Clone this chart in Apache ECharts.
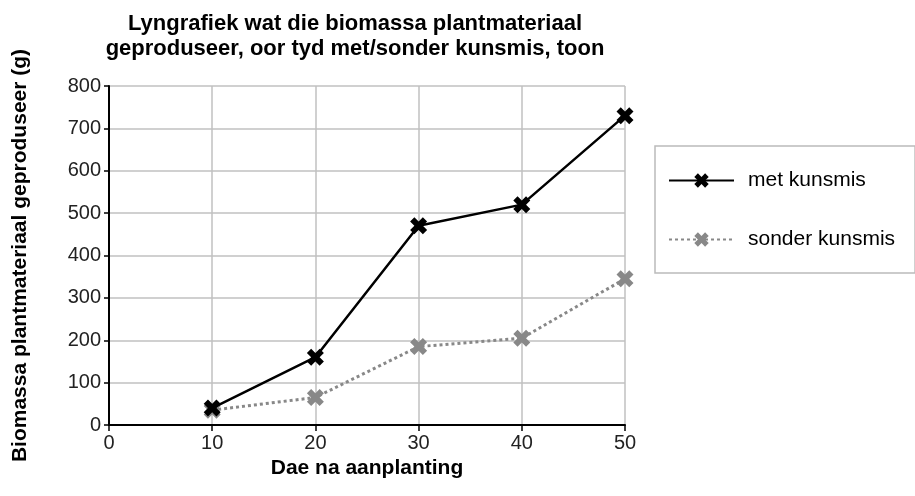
<!DOCTYPE html>
<html>
<head>
<meta charset="utf-8">
<script src="https://cdn.jsdelivr.net/npm/echarts@6/dist/echarts.min.js"></script>
<style>
    html, body { margin: 0; padding: 0; background: #fff; }
    #chart { width: 915px; height: 496px; }
</style>
</head>
<body>
<div id="chart"></div>
<script>
var dae = [10, 20, 30, 40, 50];
var metKunsmis = [40, 160, 470, 520, 730];
var sonderKunsmis = [35, 65, 185, 205, 345];

var kruis = 'path://M0,2.5 L2.5,0 L5,2.5 L7.5,0 L10,2.5 L7.5,5 L10,7.5 L7.5,10 L5,7.5 L2.5,10 L0,7.5 L2.5,5 Z';
var font = "'Liberation Sans', Arial, sans-serif";

function paar(xs, ys) {
    var out = [];
    for (var i = 0; i < xs.length; i++) {
        out.push([xs[i], ys[i]]);
    }
    return out;
}

var chart = echarts.init(document.getElementById('chart'));
chart.setOption({
    animation: false,
    textStyle: { fontFamily: font },
    title: {
        text: 'Lyngrafiek wat die biomassa plantmateriaal\ngeproduseer, oor tyd met/sonder kunsmis, toon',
        left: 350,
        top: 6,
        textAlign: 'center',
        textStyle: {
            fontFamily: font,
            fontSize: 22,
            fontWeight: 'bold',
            color: '#000',
            lineHeight: 25
        }
    },
    legend: {
        orient: 'vertical',
        left: 655,
        top: 146,
        padding: [24, 20, 23, 13],
        itemWidth: 65,
        itemHeight: 18,
        itemGap: 38,
        borderColor: '#bbb',
        borderWidth: 1.5,
        textStyle: { fontFamily: font, fontSize: 21, color: '#000', padding: [0, 0, 0, 9] },
        data: ['met kunsmis', 'sonder kunsmis']
    },
    grid: {
        left: 109,
        right: 290,
        top: 86,
        bottom: 71,
        outerBoundsMode: 'none'
    },
    xAxis: {
        type: 'value',
        min: 0,
        max: 50,
        interval: 10,
        name: 'Dae na aanplanting',
        nameLocation: 'middle',
        nameGap: 32,
        nameTextStyle: { fontFamily: font, fontSize: 21, fontWeight: 'bold', color: '#000' },
        axisLine: { lineStyle: { color: '#000', width: 2 } },
        axisTick: { length: 6, lineStyle: { color: '#000', width: 1.5 } },
        axisLabel: { fontFamily: font, fontSize: 20, color: '#222', margin: 8 },
        splitLine: { show: true, lineStyle: { color: '#c0c0c0', width: 1.5 } }
    },
    yAxis: {
        type: 'value',
        min: 0,
        max: 800,
        interval: 100,
        name: 'Biomassa plantmateriaal geproduseer (g)',
        nameLocation: 'middle',
        nameGap: 78,
        nameTextStyle: { fontFamily: font, fontSize: 21, fontWeight: 'bold', color: '#000' },
        axisLine: { show: true, lineStyle: { color: '#000', width: 2 } },
        axisTick: { show: true, length: 5, lineStyle: { color: '#000', width: 1.5 } },
        axisLabel: { fontFamily: font, fontSize: 20, color: '#222', margin: 8 },
        splitLine: { show: true, lineStyle: { color: '#c0c0c0', width: 1.5 } }
    },
    series: [
        {
            name: 'met kunsmis',
            type: 'line',
            data: paar(dae, metKunsmis),
            symbol: kruis,
            symbolSize: 17,
            itemStyle: { color: '#000' },
            lineStyle: { color: '#000', width: 2.5, type: 'solid' },
            z: 3
        },
        {
            name: 'sonder kunsmis',
            type: 'line',
            data: paar(dae, sonderKunsmis),
            symbol: kruis,
            symbolSize: 17,
            itemStyle: { color: '#888' },
            lineStyle: { color: '#888', width: 3, type: [3, 3] },
            z: 2
        }
    ]
});
</script>
</body>
</html>
